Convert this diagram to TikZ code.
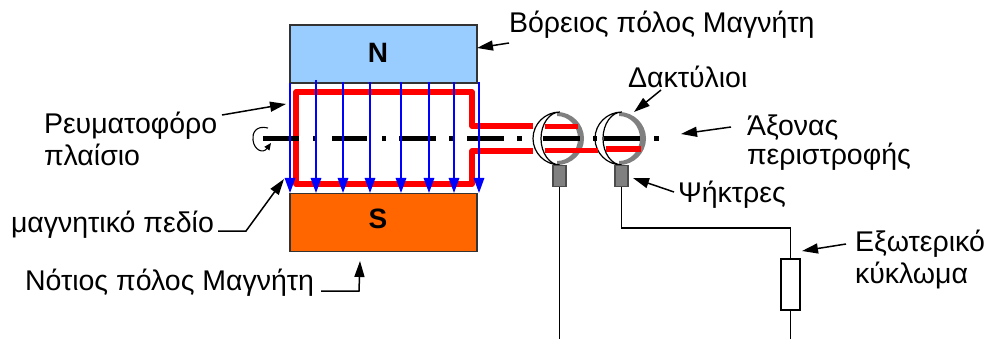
\documentclass[tikz,border=0pt]{standalone}
\usepackage{fontspec}
\setmainfont{Liberation Sans}
\usetikzlibrary{arrows.meta}
\definecolor{northcol}{RGB}{153,204,255}
\definecolor{southcol}{RGB}{255,102,0}
\definecolor{brushcol}{RGB}{128,128,128}
\tikzset{
  pole/.style={draw=black!80,line width=1.5pt,inner sep=0,minimum width=187pt,minimum height=58pt},
  polename/.style={inner sep=0,font=\fontsize{28pt}{28pt}\bfseries\selectfont},
  lbl/.style={inner sep=0,outer sep=0,anchor=base west,align=left,font=\fontsize{28.5pt}{32pt}\selectfont},
  pointer/.style={line width=1.5pt,-{Triangle[length=16pt,width=10pt]}},
  fieldline/.style={blue,line width=1.5pt,-{Triangle[length=15pt,width=10.5pt]}},
  coil/.style={red,line width=5.2pt,line join=round},
  axle/.style={line width=4.2pt},
  brush/.style={draw=black!70,fill=brushcol,line width=1.2pt,inner sep=0,minimum width=13pt,minimum height=21pt},
  wire/.style={line width=1.5pt}
}
\newcommand{\slipring}[1]{%
  \fill[brushcol] (#1-3,112) arc (270:450:27 and 26.5) -- (#1-3,161) arc (90:-90:21 and 22.5) -- cycle;
  \draw[fill=white,line width=1.2pt] (#1,112) arc (270:90:27 and 26.5) arc (90:270:19 and 26.5) -- cycle;
}
\begin{document}
\begin{tikzpicture}[x=1pt,y=-1pt]
\useasboundingbox (0,0) rectangle (987,339);
% magnet poles
\node[pole,fill=northcol] (north) at (383.5,54) {};
\node[pole,fill=southcol] (south) at (383.5,222.5) {};
\node[polename] (northname) at (378,53) {N};
\node[polename] (southname) at (378,219) {S};
% external circuit
\node[draw,fill=white,line width=1.5pt,inner sep=0,minimum width=19pt,minimum height=51pt] (load) at (790.5,284.5) {};
% rings and brushes
\slipring{560}
\slipring{622}
\node[brush] (brushA) at (559.5,176) {};
\node[brush] (brushB) at (621.5,176) {};
\coordinate (endA) at (brushA.south |- 0,339);
\coordinate (endB) at (load.south |- 0,339);
\coordinate (bend) at (brushB.south |- 0,228);
\draw[wire] (brushA) -- (endA);
\draw[wire] (brushB) -- (bend) -| (load);
\draw[wire] (load) -- (endB);
% current loop
\draw[coil] (533,126) -- (472,126) -- (472,92) -- (296,92) -- (296,184) -- (472,184) -- (472,151) -- (533,151);
\draw[coil] (545,126.5) -- (578,126.5);
\draw[coil] (545,150.5) -- (598,150.5);
\draw[coil] (606,149) -- (641,149);
% axle
\foreach \xa/\xb in {263/299,313/317,332/367,382/386,399/436,449/454,467/504,517/522,543/580,593/597,604/640,654/659}
  \draw[axle] (\xa,138.5) -- (\xb,138.5);
% field lines
\foreach \fx/\fy in {290/83,316/80,343/82,370/82,401/82,429/82,454/82,479/82}
  \draw[fieldline] (\fx,\fy) -- (\fx,193);
% spin mark
\draw[line width=1.1pt,-{Triangle[length=7pt,width=6pt]}] (268,128) .. controls (256,125) and (252,133) .. (253,140) .. controls (254,150) and (263,154) .. (271,143);
% labels
\node[lbl] (nlabel) at (509,33) {Βόρειος πόλος Μαγνήτη};
\node[lbl] (ringlabel) at (628,88) {Δακτύλιοι};
\node[lbl] (frame) at (44,166) {Ρευματοφόρο\\πλαίσιο};
\node[lbl,font=\fontsize{28.5pt}{29pt}\selectfont] (axis) at (747,165) {Άξονας\\περιστροφής};
\node[lbl] (brushlabel) at (678,202) {Ψήκτρες};
\node[lbl] (field) at (11,232) {μαγνητικό πεδίο};
\node[lbl] (slabel) at (25,290) {Νότιος πόλος Μαγνήτη};
\node[lbl] (ext) at (855,283) {Εξωτερικό\\κύκλωμα};
% pointers
\coordinate (p1) at (477,48);
\draw[pointer] (509,43) -- (p1);
\coordinate (p2) at (634,112);
\draw[pointer] (661,90) -- (p2);
\coordinate (p3) at (286,104);
\draw[pointer] (222,115) -- (p3);
\coordinate (p4) at (284,179);
\draw[pointer] (218,231) -- (246,231) -- (p4);
\coordinate (p5) at (360,261);
\draw[pointer] (321,291) -- (359,291) -- (p5);
\coordinate (p6) at (633,178);
\draw[pointer] (674,192) -- (p6);
\coordinate (p7) at (802,251);
\draw[pointer] (846,244) -- (p7);
\coordinate (p8) at (681,134);
\draw[pointer] (731,127) -- (p8);
\end{tikzpicture}
\end{document}
